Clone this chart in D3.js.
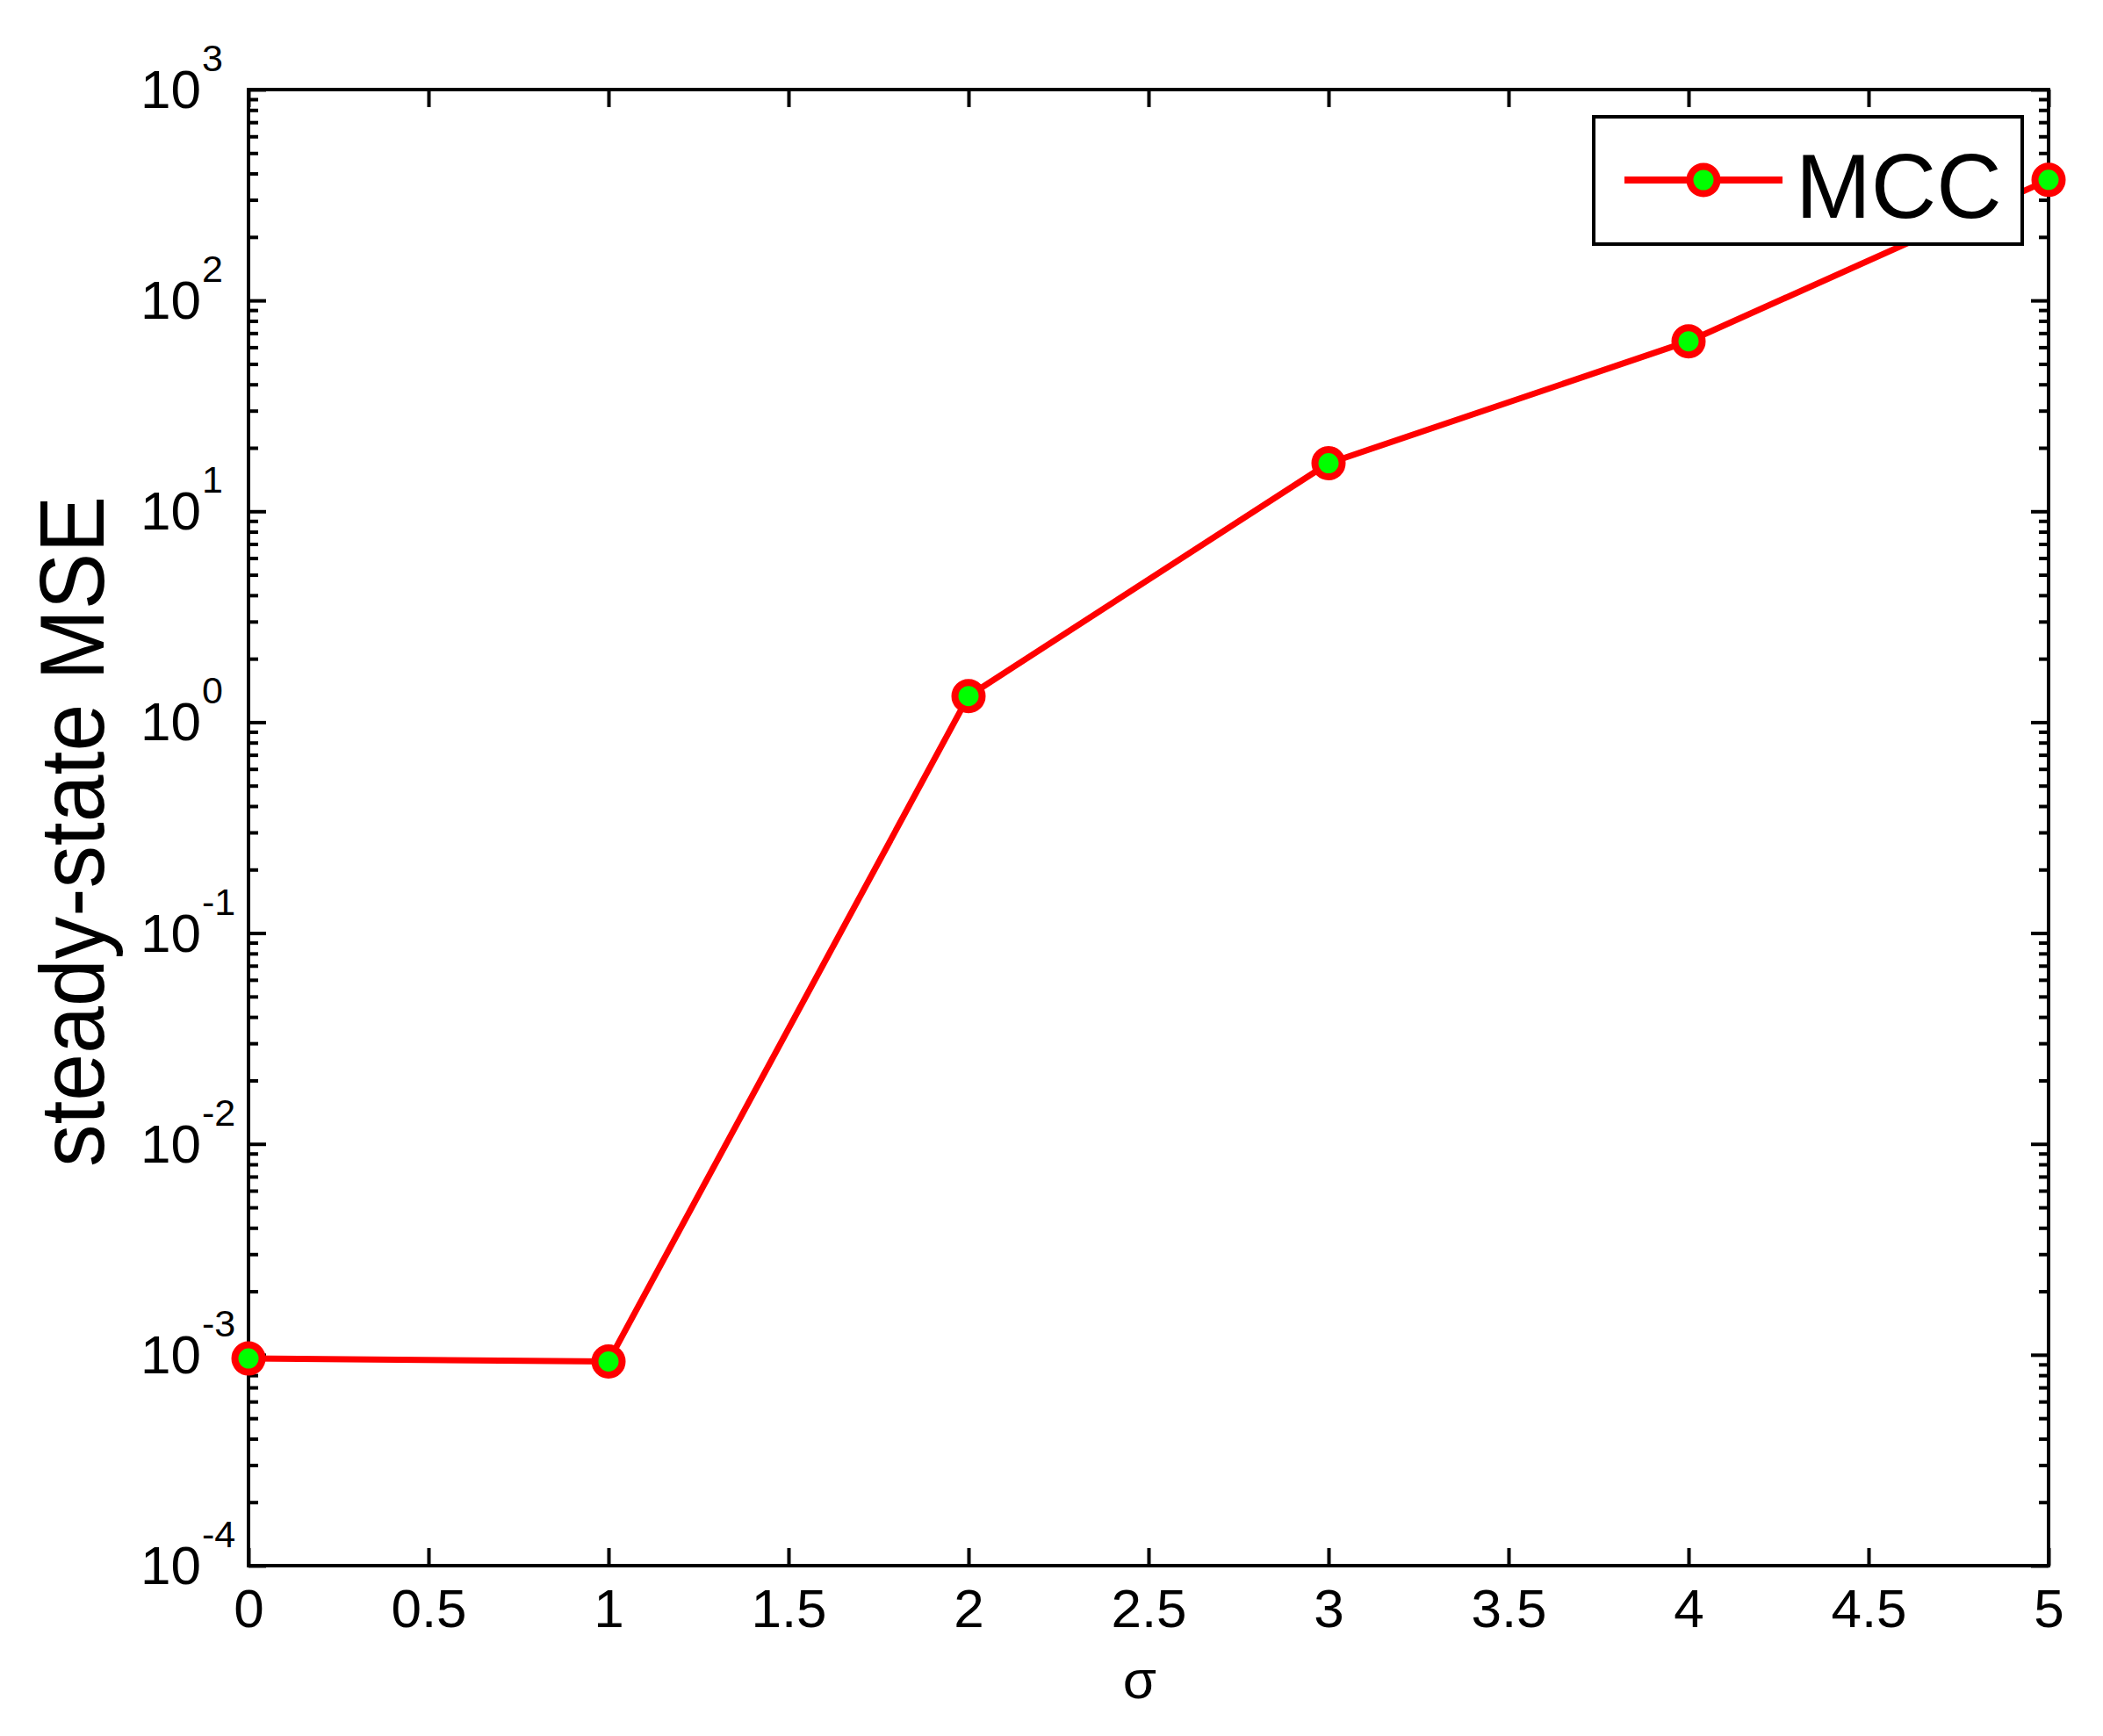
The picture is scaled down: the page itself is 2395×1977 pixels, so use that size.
<!DOCTYPE html>
<html>
<head>
<meta charset="utf-8">
<script src="https://cdn.jsdelivr.net/npm/d3@7"></script>
<style>
  html, body { margin: 0; padding: 0; background: #fff; }
  svg { display: block; }
  text { font-family: "Liberation Sans", Arial, sans-serif; fill: #000; }
</style>
</head>
<body>
<svg id="chart" width="2395" height="1977"></svg>
<script>
// ---- data ----
const sigma = [0, 1, 2, 3, 4, 5];
const mse = [9.6e-4, 9.3e-4, 1.33, 16.9, 64, 373];
const seriesName = "MCC";
const xTicks = [0, 0.5, 1, 1.5, 2, 2.5, 3, 3.5, 4, 4.5, 5];
const xTickLabels = ["0", "0.5", "1", "1.5", "2", "2.5", "3", "3.5", "4", "4.5", "5"];
const yExponents = [-4, -3, -2, -1, 0, 1, 2, 3];
const xLabel = "σ";
const yLabel = "steady-state MSE";

// ---- layout ----
const L = 283, R = 2333, T = 102, B = 1783;
const svg = d3.select("#chart");
svg.append("rect").attr("width", 2395).attr("height", 1977).attr("fill", "#fff");

const x = d3.scaleLinear().domain([0, 5]).range([L, R]);
const y = d3.scaleLog().domain([1e-4, 1e3]).range([B, T]);

const majorY = yExponents.map(e => Math.pow(10, e));
const minorY = [];
yExponents.slice(0, -1).forEach(e => {
  for (let m = 2; m <= 9; m++) minorY.push(m * Math.pow(10, e));
});

function styleAxis(g) {
  g.select(".domain").remove();
  g.selectAll("line").attr("stroke", "#000").attr("stroke-width", 4);
  g.attr("font-family", null).attr("font-size", null);
}

// x axes (bottom with labels, top without)
const xb = svg.append("g").attr("transform", `translate(0,${B})`)
  .call(d3.axisBottom(x).tickValues(xTicks).tickSize(-20)
    .tickFormat((d, i) => xTickLabels[i]));
styleAxis(xb);
xb.selectAll("text").attr("dy", null).attr("y", 70)
  .attr("font-size", 62).attr("fill", "#000");

const xt = svg.append("g").attr("transform", `translate(0,${T})`)
  .call(d3.axisTop(x).tickValues(xTicks).tickSize(-20).tickFormat(""));
styleAxis(xt);

// y axes: major + minor, left and right
[[d3.axisLeft, L], [d3.axisRight, R]].forEach(([gen, pos]) => {
  const gMaj = svg.append("g").attr("transform", `translate(${pos},0)`)
    .call(gen(y).tickValues(majorY).tickSize(-20).tickFormat(""));
  styleAxis(gMaj);
  const gMin = svg.append("g").attr("transform", `translate(${pos},0)`)
    .call(gen(y).tickValues(minorY).tickSize(-11).tickFormat(""));
  styleAxis(gMin);
});

// y tick labels 10^k
const yl = svg.append("g");
yExponents.forEach(e => {
  const yy = y(Math.pow(10, e));
  yl.append("text").attr("x", 229).attr("y", yy + 21)
    .attr("text-anchor", "end").attr("font-size", 62).text("10");
  yl.append("text").attr("x", 230).attr("y", yy - 21)
    .attr("text-anchor", "start").attr("font-size", 43).text(String(e));
});

// box
svg.append("rect").attr("x", L).attr("y", T).attr("width", R - L).attr("height", B - T)
  .attr("fill", "none").attr("stroke", "#000").attr("stroke-width", 4);

// axis labels
svg.append("text").attr("x", 1298).attr("y", 1934).attr("text-anchor", "middle")
  .attr("font-size", 62).text(xLabel);
svg.append("text").attr("transform", "translate(118,947) rotate(-90)")
  .attr("text-anchor", "middle").attr("font-size", 104)
  .attr("textLength", 764).attr("lengthAdjust", "spacingAndGlyphs").text(yLabel);

// data
const pts = sigma.map((s, i) => [s, mse[i]]);
const line = d3.line().x(d => x(d[0])).y(d => y(d[1]));
svg.append("path").datum(pts).attr("d", line)
  .attr("fill", "none").attr("stroke", "#ff0000").attr("stroke-width", 7)
  .attr("stroke-linejoin", "round");
svg.append("g").selectAll("circle").data(pts).join("circle")
  .attr("cx", d => x(d[0])).attr("cy", d => y(d[1])).attr("r", 15.5)
  .attr("fill", "#00ff00").attr("stroke", "#ff0000").attr("stroke-width", 8);

// legend
const lg = svg.append("g");
lg.append("rect").attr("x", 1815).attr("y", 133).attr("width", 488).attr("height", 145)
  .attr("fill", "#fff").attr("stroke", "#000").attr("stroke-width", 4);
lg.append("line").attr("x1", 1850).attr("x2", 2030).attr("y1", 205).attr("y2", 205)
  .attr("stroke", "#ff0000").attr("stroke-width", 8);
lg.append("circle").attr("cx", 1940).attr("cy", 205).attr("r", 15.5)
  .attr("fill", "#00ff00").attr("stroke", "#ff0000").attr("stroke-width", 8);
lg.append("text").attr("x", 2045).attr("y", 248).attr("font-size", 103).text(seriesName);
</script>
</body>
</html>
